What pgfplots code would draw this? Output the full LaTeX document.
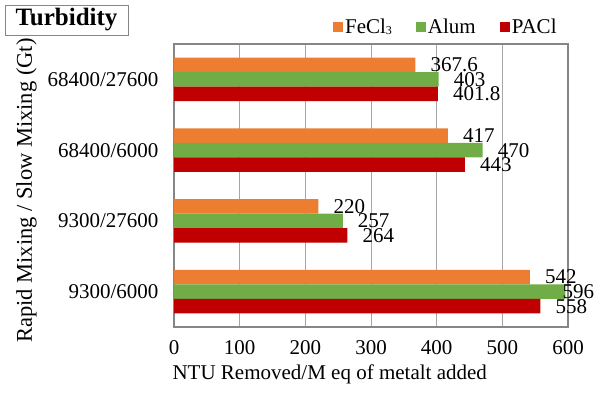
\documentclass[border=0pt]{standalone}
\usepackage{pgfplots}
\pgfplotsset{compat=1.18}
\usepackage{pgfplotstable}
\usepackage{fontspec}
\setmainfont{Liberation Serif}
\definecolor{cOr}{HTML}{ED7D31}
\definecolor{cGr}{HTML}{70AD47}
\definecolor{cRd}{HTML}{C00000}
\definecolor{cGrid}{HTML}{A6A6A6}
\definecolor{cAx}{HTML}{868686}

\pgfplotstableread{
y x lab dx
0 542 542 15
1 220 220 15
2 417 417 15
3 367.6 367.6 15
}\feclt
\pgfplotstableread{
y x lab dx
0 596 596 -3
1 257 257 15
2 470 470 15
3 403 403 15
}\alumt
\pgfplotstableread{
y x lab dx
0 558 558 15
1 264 264 15
2 443 443 15
3 401.8 401.8 15
}\paclt

\begin{document}
\begin{tikzpicture}[font=\fontsize{21}{24}\selectfont]
\begin{axis}[
  at={(174pt,-327pt)}, anchor=south west,
  scale only axis, width=394pt, height=283pt,
  xmin=0, xmax=600, ymin=-0.5, ymax=3.5,
  xtick={0,100,...,600},
  ytick={0,1,2,3},
  yticklabels={9300/6000,9300/27600,68400/6000,68400/27600},
  /pgf/number format/assume math mode=true,
  tick label style={font=\fontsize{21}{24}\selectfont},
  label style={font=\fontsize{21}{24}\selectfont},
  xmajorgrids, grid style={cGrid, line width=1pt},
  axis line style={cAx, line width=1.3pt},
  major tick length=0pt,
  xticklabel style={yshift=-10pt},
  yticklabel style={xshift=-12pt},
  xlabel={NTU Removed/M eq of metalt added},
  xlabel style={at={(rel axis cs:0,0)}, anchor=north west, yshift=-34pt, xshift=-5pt},
  ylabel={Rapid Mixing / Slow Mixing (Gt)},
  every axis y label/.append style={at={(ticklabel cs:0.482)}, anchor=south, yshift=4pt, font=\fontsize{22.5}{25}\selectfont},
  xbar, bar width=14.5pt,
  nodes near coords,
  point meta=explicit symbolic,
  every node near coord/.append style={anchor=west, inner sep=0pt, font=\fontsize{21}{24}\selectfont},
  visualization depends on={\thisrow{dx} \as \dx},
  every node near coord/.append style={xshift=\dx pt},
  legend columns=3,
  legend style={at={(0.69,1.06)}, anchor=center, draw=none, fill=none,
    font=\fontsize{21}{24}\selectfont,
    /tikz/every even column/.append style={column sep=22pt}},
  legend image code/.code={\fill[#1] (0pt,-5pt) rectangle (10pt,5pt);},
  legend cell align=left,
]
\addplot[fill=cOr, draw=none, bar shift=14.5pt] table[x=x,y=y,meta=lab]{\feclt};
\addplot[fill=cGr, draw=none, bar shift=0pt] table[x=x,y=y,meta=lab]{\alumt};
\addplot[fill=cRd, draw=none, bar shift=-14.5pt] table[x=x,y=y,meta=lab]{\paclt};
\legend{FeCl{\fontsize{12}{12}\selectfont\raisebox{-1pt}{3}},Alum,PACl}
\end{axis}
\draw[cAx, line width=1pt] (5pt,-5pt) rectangle (128pt,-35pt);
\node[font=\fontsize{25}{28}\selectfont\bfseries] at (66.5pt,-20pt) {Turbidity};
\pgfresetboundingbox
\path[use as bounding box] (0,0) rectangle (599pt,-392pt);
\end{tikzpicture}
\end{document}
